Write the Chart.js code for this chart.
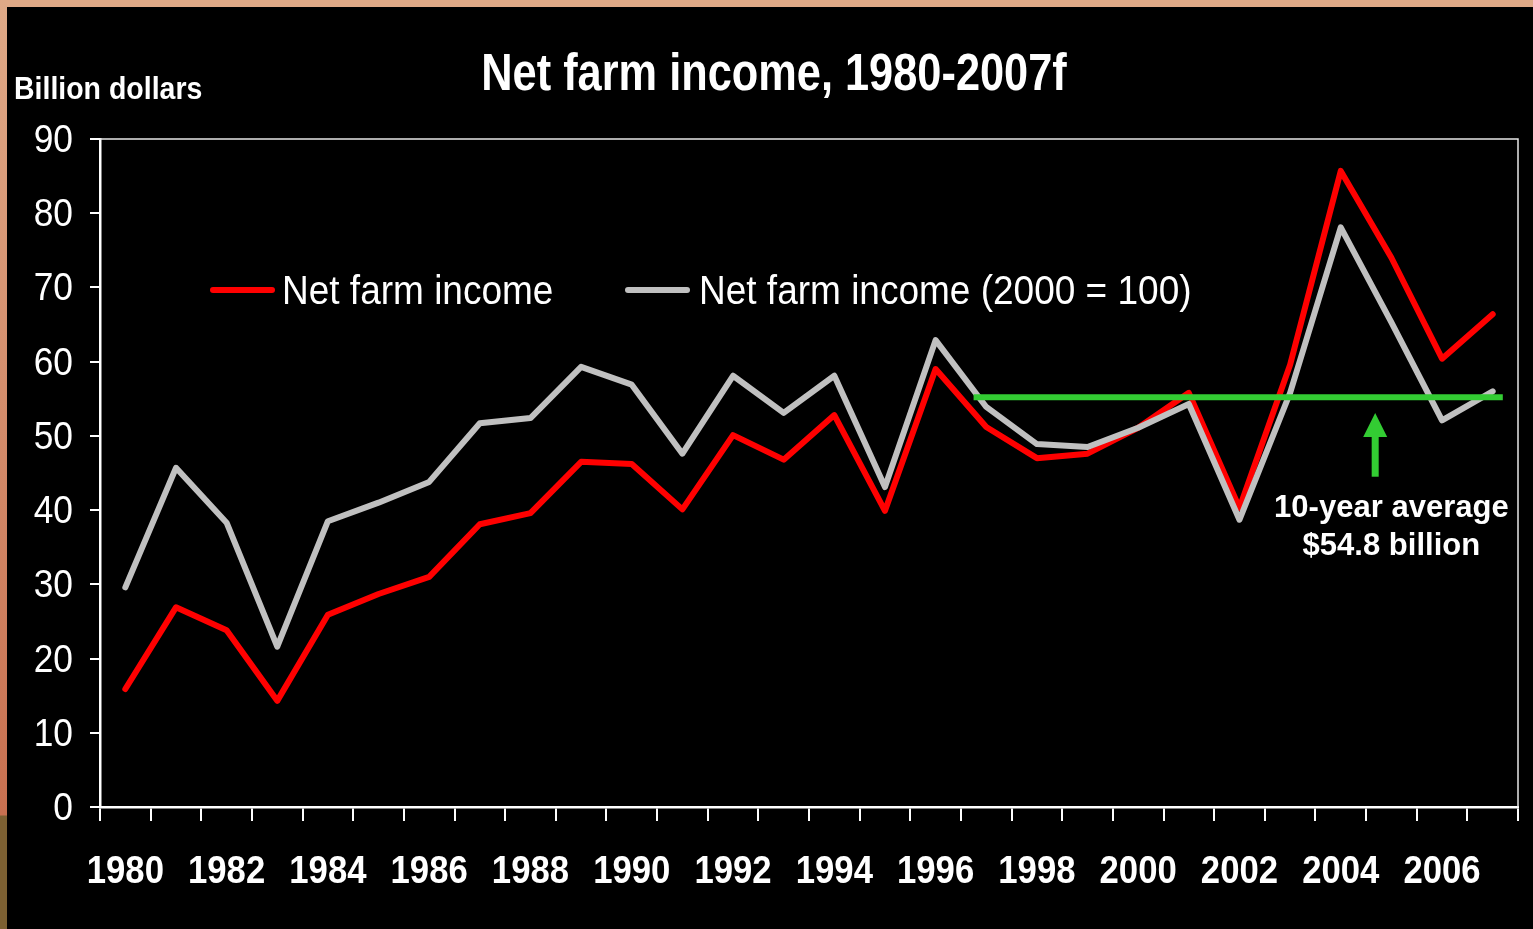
<!DOCTYPE html>
<html>
<head>
<meta charset="utf-8">
<script src="https://cdn.jsdelivr.net/npm/chart.js@4.4.1/dist/chart.umd.min.js"></script>
<style>
  html, body { margin: 0; padding: 0; background: #000; overflow: hidden; }
  #wrap { position: relative; width: 1533px; height: 929px; }
  canvas { position: absolute; left: 0; top: 0; }
  .edge-top { position: absolute; left: 0; top: 0; width: 1533px; height: 7px; background: #dfa987; }
  .edge-left { position: absolute; left: 0; top: 0; width: 7px; height: 929px;
    background: linear-gradient(#dfa987 0px, #c87050 815px, #7d6032 816px, #7d6032 929px); }
</style>
</head>
<body>
<div id="wrap">
  <canvas id="chart" width="1533" height="929"></canvas>
  <div class="edge-top"></div>
  <div class="edge-left"></div>
</div>
<script>
// data
const years = [1980, 1981, 1982, 1983, 1984, 1985, 1986, 1987, 1988, 1989,
  1990, 1991, 1992, 1993, 1994, 1995, 1996, 1997, 1998, 1999,
  2000, 2001, 2002, 2003, 2004, 2005, 2006, 2007];
const netIncome = [15.9, 26.9, 23.8, 14.3, 25.9, 28.7, 31.0, 38.1, 39.6, 46.5,
  46.2, 40.1, 50.1, 46.8, 52.8, 39.9, 59.0, 51.2, 47.0, 47.6,
  51.1, 55.8, 40.3, 59.6, 85.7, 74.0, 60.4, 66.4];
const netIncomeReal = [29.6, 45.7, 38.3, 21.6, 38.5, 41.0, 43.8, 51.7, 52.4, 59.3,
  56.9, 47.6, 58.1, 53.1, 58.1, 43.1, 62.9, 53.9, 48.9, 48.5,
  51.1, 54.3, 38.7, 55.8, 78.1, 65.3, 52.1, 56.0];
const avgSpan = [1996.75, 2007.2];   // years covered by the green line
const avgValue = [55.2, 55.2];
const arrowYear = 2004.68;
const arrowFrom = 44.5;
const arrowTo = 53.1;
const yTicks = [0, 10, 20, 30, 40, 50, 60, 70, 80, 90];
const seriesNames = ["Net farm income", "Net farm income (2000 = 100)"];

const SANS = "'Liberation Sans', Arial, sans-serif";

// no narrow face installed, so squeeze Liberation Sans sideways
function squeezeText(ctx, text, x, y, font, sx, align, baseline) {
  ctx.save();
  ctx.font = font;
  ctx.textAlign = align || "left";
  ctx.textBaseline = baseline || "alphabetic";
  ctx.translate(x, y);
  ctx.scale(sx, 1);
  ctx.fillText(text, 0, 0);
  ctx.restore();
}

const decor = {
  id: "decor",
  beforeDraw(chart) {
    const ctx = chart.ctx;
    ctx.save();
    ctx.fillStyle = "#000";
    ctx.fillRect(0, 0, chart.width, chart.height);
    ctx.restore();
  },
  afterDraw(chart) {
    const ctx = chart.ctx;
    const a = chart.chartArea;
    const xs = chart.scales.xAvg, ys = chart.scales.y, xc = chart.scales.x;
    ctx.save();
    ctx.fillStyle = "#fff";

    // top / right frame
    ctx.strokeStyle = "#e8e8e8";
    ctx.lineWidth = 1.5;
    ctx.beginPath();
    ctx.moveTo(a.left, a.top);
    ctx.lineTo(a.right, a.top);
    ctx.lineTo(a.right, a.bottom);
    ctx.stroke();

    // tick labels, placed by the scales
    xc.ticks.forEach((t, i) => {
      if (!t.label) return;
      squeezeText(ctx, String(t.label), xc.getPixelForTick(i), 883,
        "bold 39px " + SANS, 0.89, "center");
    });
    ys.ticks.forEach((t, i) => {
      squeezeText(ctx, String(t.label), 73, ys.getPixelForTick(i) + 13,
        "38px " + SANS, 0.93, "right");
    });

    // title and unit
    squeezeText(ctx, "Net farm income, 1980-2007f", 774, 90, "bold 51px " + SANS, 0.85, "center");
    squeezeText(ctx, "Billion dollars", 14, 99, "bold 32px " + SANS, 0.89);

    // legend
    const ds = chart.data.datasets;
    const ly = 290;
    [{ x: 213, tx: 282, d: ds[0] }, { x: 628, tx: 699, d: ds[1] }].forEach(it => {
      ctx.strokeStyle = it.d.borderColor;
      ctx.lineWidth = 6;
      ctx.lineCap = "round";
      ctx.beginPath();
      ctx.moveTo(it.x, ly);
      ctx.lineTo(it.x + 59, ly);
      ctx.stroke();
      squeezeText(ctx, it.d.label, it.tx, 304, "40px " + SANS, 0.925);
    });

    // arrow
    const ax = xs.getPixelForValue(arrowYear);
    const yb = ys.getPixelForValue(arrowFrom);
    const yt = ys.getPixelForValue(arrowTo);
    ctx.fillStyle = "#33cc33";
    ctx.fillRect(ax - 3.5, yt + 23, 7, yb - yt - 23);
    ctx.beginPath();
    ctx.moveTo(ax, yt);
    ctx.lineTo(ax + 12, yt + 24);
    ctx.lineTo(ax - 12, yt + 24);
    ctx.closePath();
    ctx.fill();

    // note
    ctx.fillStyle = "#fff";
    const tx = xs.getPixelForValue(2005);
    squeezeText(ctx, "10-year average", tx, ys.getPixelForValue(40.3), "bold 32px " + SANS, 0.97, "center", "middle");
    squeezeText(ctx, "$54.8 billion", tx, ys.getPixelForValue(35.2), "bold 32px " + SANS, 0.97, "center", "middle");
    ctx.restore();
  }
};

new Chart(document.getElementById("chart"), {
  type: "line",
  data: {
    labels: years,
    datasets: [
      { label: seriesNames[0], data: netIncome, borderColor: "#ff0000", borderWidth: 6,
        pointRadius: 0, tension: 0, order: 2, borderJoinStyle: "round", borderCapStyle: "round" },
      { label: seriesNames[1], data: netIncomeReal, borderColor: "#c0c0c0", borderWidth: 6,
        pointRadius: 0, tension: 0, order: 1, borderJoinStyle: "round", borderCapStyle: "round" },
      { label: "avg", xAxisID: "xAvg", data: avgSpan.map((x, i) => ({ x, y: avgValue[i] })),
        borderColor: "#33cc33", borderWidth: 6, pointRadius: 0, order: 0 }
    ]
  },
  options: {
    responsive: false,
    animation: false,
    devicePixelRatio: 1,
    layout: { padding: { top: 139, right: 15, left: 0, bottom: 0 } },
    plugins: { legend: { display: false }, title: { display: false }, tooltip: { enabled: false } },
    scales: {
      x: {
        type: "category",
        offset: true,
        border: { color: "#fff", width: 2.5 },
        grid: { offset: true, drawOnChartArea: false, color: "#fff", lineWidth: 2, tickLength: 14 },
        ticks: {
          display: false, autoSkip: false, maxRotation: 0,
          callback: (v, i) => (i % 2 === 0 ? String(years[i]) : "")
        },
        afterFit: s => { s.height = 122; }
      },
      xAvg: { type: "linear", display: false, min: 1979.5, max: 2007.5 },
      y: {
        min: 0, max: 90,
        afterBuildTicks: s => { s.ticks = yTicks.map(v => ({ value: v })); },
        border: { color: "#fff", width: 2.5 },
        grid: { drawOnChartArea: false, color: "#fff", lineWidth: 2, tickLength: 10 },
        ticks: { display: false },
        afterFit: s => { s.width = 100; }
      }
    }
  },
  plugins: [decor]
});
</script>
</body>
</html>
